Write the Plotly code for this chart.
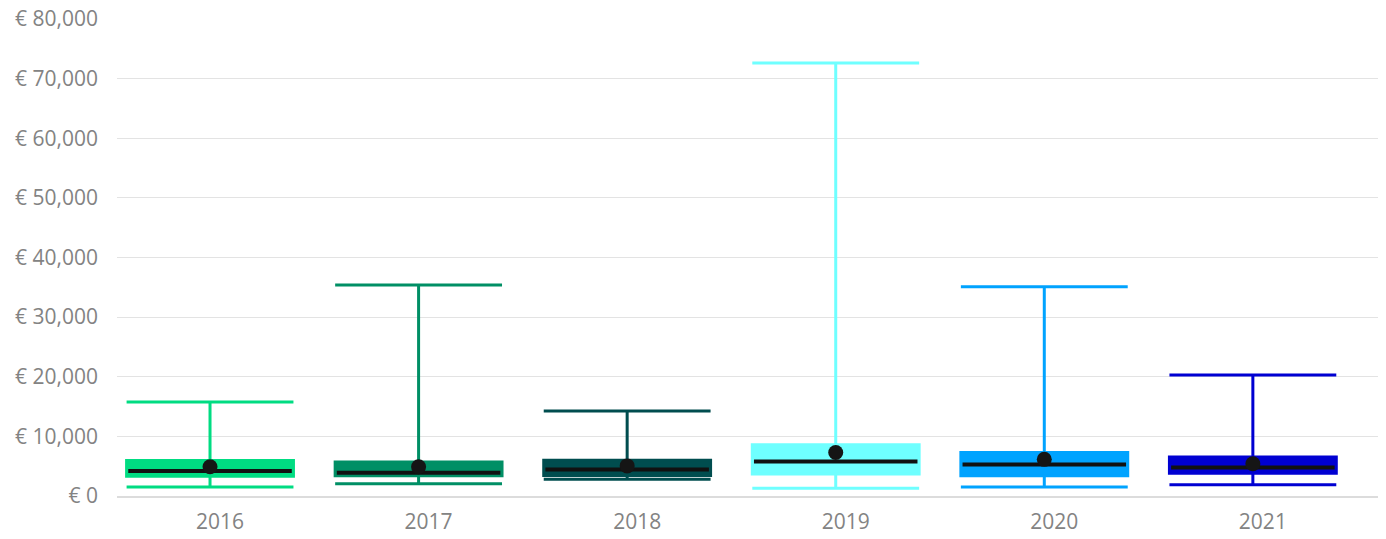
import plotly.graph_objects as go

years = ["2016", "2017", "2018", "2019", "2020", "2021"]
lower_fence = [1500, 2050, 2800, 1300, 1500, 1900]
q1_vals = [3300, 3400, 3450, 3700, 3400, 3800]
median_vals = [4200, 3900, 4450, 5800, 5300, 4800]
q3_vals = [5950, 5700, 6000, 8600, 7300, 6550]
upper_fence = [15750, 35400, 14250, 72600, 35100, 20300]
mean_vals = [4900, 4900, 5050, 7300, 6150, 5400]
colors = ["#00DC82", "#008F65", "#004D4F", "#6FFFFF", "#00A3FF", "#0000D2"]

BOX_W = 0.8
fig = go.Figure()

for i, yr in enumerate(years):
    fig.add_trace(go.Box(
        x=[i], q1=[q1_vals[i]], median=[median_vals[i]], q3=[q3_vals[i]],
        lowerfence=[lower_fence[i]], upperfence=[upper_fence[i]],
        fillcolor=colors[i], line=dict(color=colors[i], width=3),
        width=BOX_W, whiskerwidth=1, boxpoints=False, name=yr,
        showlegend=False, hoverinfo="skip",
    ))
    fig.add_trace(go.Scatter(
        x=[i - BOX_W / 2 * 0.98, i + BOX_W / 2 * 0.98],
        y=[median_vals[i], median_vals[i]],
        mode="lines", line=dict(color="#111111", width=4),
        showlegend=False, hoverinfo="skip",
    ))
    fig.add_trace(go.Scatter(
        x=[i], y=[mean_vals[i]], mode="markers",
        marker=dict(color="#151515", size=15),
        showlegend=False, hoverinfo="skip",
    ))

fig.update_layout(
    width=1386, height=539,
    margin=dict(l=117, r=8, t=19, b=43),
    paper_bgcolor="white", plot_bgcolor="white",
    font=dict(family="Open Sans, Segoe UI, sans-serif", size=21, color="#838383"),
    xaxis=dict(
        range=[-0.446, 5.6],
        tickmode="array",
        tickvals=[i + 0.048 for i in range(len(years))],
        ticktext=years,
        showgrid=False, zeroline=False,
        showline=True, linecolor="#dcdcdc", linewidth=2,
        ticks="", ticklabelstandoff=6, automargin=False,
    ),
    yaxis=dict(
        range=[0, 80000],
        tickvals=[0, 10000, 20000, 30000, 40000, 50000, 60000, 70000, 80000],
        ticktext=["€ 0", "€ 10,000", "€ 20,000", "€ 30,000", "€ 40,000",
                  "€ 50,000", "€ 60,000", "€ 70,000", "€ 80,000"],
        showgrid=True, gridcolor="#e3e3e3", gridwidth=1,
        zeroline=False, showline=False,
        ticks="", ticklabelstandoff=18, automargin=False,
    ),
)

fig.write_html("out.html", config={"displayModeBar": False},
               post_script="document.body.style.margin='0';")
